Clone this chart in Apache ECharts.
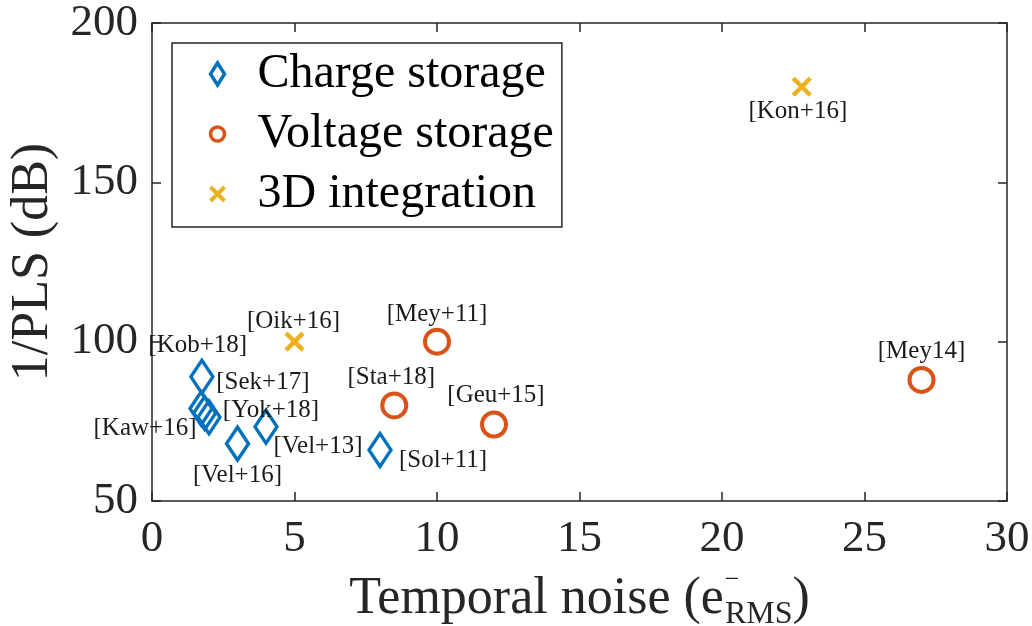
<!DOCTYPE html>
<html>
<head>
<meta charset="utf-8">
<script src="https://cdn.jsdelivr.net/npm/echarts@6/dist/echarts.min.js"></script>
<style>html,body{margin:0;padding:0;background:#fff}#c{width:1032px;height:626px}</style>
</head>
<body>
<div id="c"></div>
<script>
// ---- data ----
var chargeNames = ['[Sek+17]', '[Kaw+16]', '[Kob+18]', '[Yok+18]', '[Vel+16]', '[Vel+13]', '[Sol+11]'];
var chargeX = [1.75, 1.72, 1.85, 2.0, 3.0, 4.0, 8.0];
var chargeY = [89, 79, 77.6, 76.3, 68, 73.3, 66];
var voltageNames = ['[Mey+11]', '[Sta+18]', '[Geu+15]', '[Mey14]'];
var voltageX = [10, 8.5, 12, 27];
var voltageY = [100, 80, 74, 88];
var integNames = ['[Oik+16]', '[Kon+16]'];
var integX = [5, 22.8];
var integY = [100, 180];
var xTicks = [0, 30, 5];
var yTicks = [50, 200, 50];

// label placement (pixel offsets from marker centre)
var chargeLabelOffset = [[61, 6], [-56, 20], [-7, -68], [62, -7], [0, 32], [52, 20], [63, 10]];
var voltageLabelOffset = [[0, -27], [-3, -28], [2, -29], [0, -28]];
var integLabelOffset = [[-1, -20], [-4, 25]];

var FONT = '"Liberation Serif", "DejaVu Serif", serif';
var AX = '#262626';

function mk(names, xs, ys, offs) {
  return names.map(function (n, i) {
    return {
      value: [xs[i], ys[i]], name: n,
      label: { show: true, position: 'inside', offset: offs[i], formatter: n }
    };
  });
}

var labelStyle = { color: '#1a1a1a', fontFamily: FONT, fontSize: 25 };

var chart = echarts.init(document.getElementById('c'), null, { renderer: 'canvas' });
chart.setOption({
  animation: false,
  grid: { left: 152, right: 25, top: 23, bottom: 125, outerBoundsMode: 'none', containLabel: false },
  xAxis: [{
    type: 'value', min: xTicks[0], max: xTicks[1], interval: xTicks[2],
    position: 'bottom',
    axisLine: { onZero: false, lineStyle: { color: AX, width: 1.5 } },
    axisTick: { inside: true, length: 9, lineStyle: { color: AX, width: 1.5 } },
    axisLabel: { color: AX, fontFamily: FONT, fontSize: 45, margin: 16 },
    splitLine: { show: false },
    name: '{a|Temporal noise (e}{sup|\u2009\u2009\u2009−}{sub|RMS}{a|)}',
    nameLocation: 'middle', nameGap: 61,
    nameTextStyle: {
      rich: {
        a: { fontFamily: FONT, fontSize: 52, color: AX, lineHeight: 64, verticalAlign: 'middle' },
        sup: { fontFamily: FONT, fontSize: 26, color: AX, width: 1, align: 'left', verticalAlign: 'top', lineHeight: 42 },
        sub: { fontFamily: FONT, fontSize: 32, color: AX, verticalAlign: 'bottom', lineHeight: 36 }
      }
    }
  }, {
    type: 'value', min: xTicks[0], max: xTicks[1], interval: xTicks[2],
    position: 'top',
    axisLine: { onZero: false, lineStyle: { color: AX, width: 1.5 } },
    axisTick: { inside: true, length: 9, lineStyle: { color: AX, width: 1.5 } },
    axisLabel: { show: false }, splitLine: { show: false }
  }],
  yAxis: [{
    type: 'value', min: yTicks[0], max: yTicks[1], interval: yTicks[2],
    position: 'left',
    axisLine: { onZero: false, lineStyle: { color: AX, width: 1.5 } },
    axisTick: { inside: true, length: 9, lineStyle: { color: AX, width: 1.5 } },
    axisLabel: { color: AX, fontFamily: FONT, fontSize: 45, margin: 14 },
    splitLine: { show: false },
    name: '1/PLS (dB)', nameLocation: 'middle', nameGap: 88, nameRotate: 90,
    nameTextStyle: { fontFamily: FONT, fontSize: 52, color: AX }
  }, {
    type: 'value', min: yTicks[0], max: yTicks[1], interval: yTicks[2],
    position: 'right',
    axisLine: { onZero: false, lineStyle: { color: AX, width: 1.5 } },
    axisTick: { inside: true, length: 9, lineStyle: { color: AX, width: 1.5 } },
    axisLabel: { show: false }, splitLine: { show: false }
  }],
  legend: {
    orient: 'vertical', left: 172, top: 43,
    backgroundColor: '#fff',
    borderColor: '#262626', borderWidth: 1.5, borderRadius: 0,
    padding: [7, 8, 9, 36],
    itemGap: 12, itemWidth: 14, itemHeight: 22,
    textStyle: { fontFamily: FONT, fontSize: 48, color: '#000', padding: [0, 0, 0, 28], lineHeight: 42 },
    data: [
      { name: 'Charge storage', icon: 'diamond', itemStyle: { color: '#fff', borderColor: '#0072BD', borderWidth: 3.5 } },
      { name: 'Voltage storage', icon: 'circle', itemStyle: { color: '#fff', borderColor: '#D95319', borderWidth: 3.5 } },
      { name: '3D integration', icon: 'path://M0,0L1,1M1,0L0,1', itemStyle: { color: 'none', borderColor: '#EDB120', borderWidth: 4 } }
    ]
  },
  series: [{
    name: 'Charge storage', type: 'scatter',
    symbol: 'diamond', symbolSize: [22, 33],
    itemStyle: { color: 'rgba(255,255,255,0)', borderColor: '#0072BD', borderWidth: 3.5, opacity: 1 },
    label: labelStyle,
    data: mk(chargeNames, chargeX, chargeY, chargeLabelOffset)
  }, {
    name: 'Voltage storage', type: 'scatter',
    symbol: 'circle', symbolSize: 24,
    itemStyle: { color: 'rgba(255,255,255,0)', borderColor: '#D95319', borderWidth: 4, opacity: 1 },
    label: labelStyle,
    data: mk(voltageNames, voltageX, voltageY, voltageLabelOffset)
  }, {
    name: '3D integration', type: 'scatter',
    symbol: 'path://M0,0L1,1M1,0L0,1', symbolSize: 17,
    itemStyle: { color: 'none', borderColor: '#EDB120', borderWidth: 4.5, opacity: 1 },
    label: labelStyle,
    data: mk(integNames, integX, integY, integLabelOffset)
  }]
});
</script>
</body>
</html>
